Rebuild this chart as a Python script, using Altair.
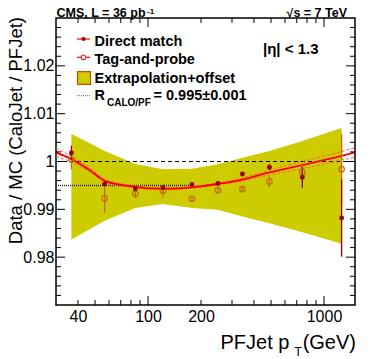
import altair as alt
import pandas as pd

# ---------------- data ----------------
pt = [36.7, 56.7, 84.7, 121.7, 177.7, 249.5, 344, 489.7, 753, 1259]
direct = [1.0018, 0.9953, 0.9943, 0.9945, 0.9952, 0.9954, 0.9974, 0.9988, 0.9967, 0.9882]
direct_err = [0.0015, 0.0005, 0.0003, 0.0004, 0.0003, 0.0003, 0.0003, 0.0006, 0.0022, 0.0081]
tagprobe = [1.0004, 0.9923, 0.9933, 0.9939, 0.9922, 0.9940, 0.9942, 0.9958, 0.9977, 0.9984]
tagprobe_err = [0.0020, 0.0030, 0.0010, 0.0014, 0.0005, 0.0004, 0.0005, 0.0012, 0.0020, 0.0073]

band_hi = [1.0058, 1.0022, 0.9995, 0.9984, 0.9985, 0.9994, 1.0008, 1.0022, 1.0043, 1.0070]
band_lo = [0.9837, 0.9876, 0.9903, 0.9911, 0.9903, 0.9899, 0.9885, 0.9871, 0.9852, 0.9828]

fit_pt = [30, 36.7, 47, 56.5, 69.6, 84.7, 103, 125, 152, 198, 257, 333, 490, 752, 1259, 1500]
fit_c = [1.0019, 1.0005, 0.9981, 0.9960, 0.99515, 0.9947, 0.99438, 0.9943, 0.99438, 0.99479,
         0.9954, 0.99613, 0.99771, 0.99925, 1.00119, 1.0019]
fit_up = [1.0028, 1.0011, 0.9985, 0.9963, 0.9954, 0.9949, 0.9946, 0.9945, 0.9946, 0.9950,
          0.9956, 0.9964, 0.9982, 1.0000, 1.0021, 1.0029]
fit_dn = [1.0010, 0.9999, 0.9977, 0.9957, 0.9949, 0.9945, 0.9942, 0.9941, 0.9942, 0.9946,
          0.9952, 0.9958, 0.9972, 0.9985, 1.0003, 1.0009]

unity_line = [30, 1500]
rconst_line = [30, 180]
rconst_value = 0.995

x_labels = [40, 100, 200, 1000]
y_labels = [0.98, 0.99, 1.00, 1.01, 1.02]
x_major = [100, 1000]
x_minor = [40, 50, 60, 70, 80, 90, 200, 300, 400, 500, 600, 700, 800, 900]
y_major = [0.98, 0.99, 1.00, 1.01, 1.02]
y_minor = [0.972, 0.974, 0.976, 0.978, 0.982, 0.984, 0.986, 0.988, 0.992, 0.994, 0.996, 0.998,
           1.002, 1.004, 1.006, 1.008, 1.012, 1.014, 1.016, 1.018, 1.022, 1.024, 1.026, 1.028]

legend_labels = ["Direct match", "Tag-and-probe", "Extrapolation+offset"]

# ---------------- styling ----------------
W, H = 299, 287
FONT = "Liberation Sans"
BAND = "#cccc00"
RED = "#ff0000"
RED_L = "#ff5a5a"
DM = "#990000"
TP = "#c07010"
LF = 14.5

xs = alt.Scale(type="log", domain=[30, 1500], nice=False)
ys = alt.Scale(domain=[0.97, 1.03], nice=False, zero=False)
xaxis = alt.Axis(values=x_labels, title=None, ticks=False, domain=False, grid=False,
                 labelFont=FONT, labelFontSize=16, labelColor="black", labelPadding=3,
                 format="d", labelFlush=False, labelOverlap=False)
yaxis = alt.Axis(values=y_labels, title=None, ticks=False, domain=False, grid=False,
                 labelFont=FONT, labelFontSize=16, labelColor="black", labelPadding=2,
                 format="~g", labelOverlap=False)


def X(f):
    return alt.X(f, type="quantitative", scale=xs, axis=xaxis)


def Y(f):
    return alt.Y(f, type="quantitative", scale=ys, axis=yaxis)


pts = pd.DataFrame({"pt": pt, "dm": direct, "dm_lo": [a - b for a, b in zip(direct, direct_err)],
                    "dm_hi": [a + b for a, b in zip(direct, direct_err)],
                    "tp": tagprobe, "tp_lo": [a - b for a, b in zip(tagprobe, tagprobe_err)],
                    "tp_hi": [a + b for a, b in zip(tagprobe, tagprobe_err)],
                    "blo": band_lo, "bhi": band_hi})
fit = pd.DataFrame({"pt": fit_pt, "c": fit_c, "up": fit_up, "dn": fit_dn})

band = alt.Chart(pts).mark_area(color=BAND, opacity=1).encode(x=X("pt"), y=Y("blo"), y2="bhi")

unity = alt.Chart(pd.DataFrame({"pt": unity_line, "v": [1.0, 1.0]})).mark_line(
    color="black", strokeWidth=1, strokeDash=[4, 3], clip=True).encode(x=X("pt"), y=Y("v"))
rconst = alt.Chart(pd.DataFrame({"pt": rconst_line, "v": [rconst_value, rconst_value]})).mark_line(
    color="#222222", strokeWidth=1.5, strokeDash=[1, 1], clip=True).encode(x=X("pt"), y=Y("v"))

fit_u = alt.Chart(fit).mark_line(color=RED_L, strokeWidth=1, strokeDash=[3, 2],
                                 interpolate="monotone", clip=True).encode(x=X("pt"), y=Y("up"))
fit_d = alt.Chart(fit).mark_line(color=RED_L, strokeWidth=1, strokeDash=[3, 2],
                                 interpolate="monotone", clip=True).encode(x=X("pt"), y=Y("dn"))
fit_m = alt.Chart(fit).mark_line(color=RED, strokeWidth=1.8,
                                 interpolate="monotone", clip=True).encode(x=X("pt"), y=Y("c"))

tp_bar = alt.Chart(pts).mark_rule(color=TP, strokeWidth=1.3).encode(x=X("pt"), y=Y("tp_lo"), y2="tp_hi")
dm_bar = alt.Chart(pts).mark_rule(color=DM, strokeWidth=1.3).encode(x=X("pt"), y=Y("dm_lo"), y2="dm_hi")
tp_pt = alt.Chart(pts).mark_point(shape="circle", filled=False, color=TP, size=30, strokeWidth=1.3,
                                  opacity=1).encode(x=X("pt"), y=Y("tp"))
dm_pt = alt.Chart(pts).mark_point(shape="circle", filled=True, color=DM, size=24,
                                  opacity=1).encode(x=X("pt"), y=Y("dm"))


# ---------------- ROOT-style inward ticks ----------------
def yticks(vals, length):
    d = pd.DataFrame({"v": vals})
    left = alt.Chart(d).mark_rule(color="black", strokeWidth=1).encode(
        y=Y("v"), x=alt.value(0), x2=alt.value(length))
    right = alt.Chart(d).mark_rule(color="black", strokeWidth=1).encode(
        y=Y("v"), x=alt.value(W - length), x2=alt.value(W))
    return [left, right]


def xticks(vals, length):
    d = pd.DataFrame({"v": vals})
    bottom = alt.Chart(d).mark_rule(color="black", strokeWidth=1).encode(
        x=X("v"), y=alt.value(H - length), y2=alt.value(H))
    top = alt.Chart(d).mark_rule(color="black", strokeWidth=1).encode(
        x=X("v"), y=alt.value(0), y2=alt.value(length))
    return [bottom, top]


ticks = yticks(y_major, 9) + yticks(y_minor, 5) + xticks(x_major, 9) + xticks(x_minor, 5)


# ---------------- texts ----------------
def txt(s, x, y, size, weight="normal", align="left", angle=0, color="black"):
    return alt.Chart(pd.DataFrame({"s": [s]})).mark_text(
        font=FONT, fontSize=size, fontWeight=weight, align=align, baseline="alphabetic",
        angle=angle, color=color).encode(x=alt.value(x), y=alt.value(y), text="s:N")


texts = [
    txt("CMS, L = 36 pb", 0.5, -1, 12.5, "bold"),
    txt("-1", 91, -4.5, 8, "bold"),
    txt("\u221as = 7 TeV", 291, -1, 12.5, "bold", align="right"),
    txt("|\u03b7| < 1.3", 207, 36, 15, "bold"),
    txt(legend_labels[0], 38.5, 27.7, LF, "bold"),
    txt(legend_labels[1], 38.5, 46, LF, "bold"),
    txt(legend_labels[2], 38.5, 65, LF, "bold"),
    txt("R", 38.5, 82, LF, "bold"),
    txt("CALO/PF", 51, 88, 10, "bold"),
    txt("= 0.995\u00b10.001", 97.5, 82, LF, "bold"),
    txt("PFJet p", 164.5, 330.5, 20),
    txt("T", 238.5, 337.5, 12),
    txt("(GeV)", 300, 330.5, 20, align="right"),
    txt("Data / MC (CaloJet / PFJet)", -34.5, -1, 18.5, align="right", angle=270),
]

one = pd.DataFrame({"a": [0]})
leg_line1 = alt.Chart(one).mark_rule(color=RED, strokeWidth=1.2).encode(
    x=alt.value(21), x2=alt.value(34), y=alt.value(21))
leg_dot1 = alt.Chart(one).mark_point(shape="circle", filled=True, color=DM, size=18, opacity=1).encode(
    x=alt.value(27.5), y=alt.value(21))
leg_line2 = alt.Chart(one).mark_rule(color=RED, strokeWidth=1.2).encode(
    x=alt.value(21), x2=alt.value(34), y=alt.value(39.3))
leg_dot2 = alt.Chart(one).mark_point(shape="circle", filled=True, color="white", size=22, opacity=1).encode(
    x=alt.value(27.5), y=alt.value(39.3))
leg_dot2b = alt.Chart(one).mark_point(shape="circle", filled=False, color="#cc3030", size=22,
                                      strokeWidth=1.1, opacity=1).encode(
    x=alt.value(27.5), y=alt.value(39.3))
leg_box = alt.Chart(one).mark_rect(color=BAND, stroke="#c05000", strokeWidth=1.2).encode(
    x=alt.value(21.5), x2=alt.value(34.5), y=alt.value(53.7), y2=alt.value(66.3))
leg_line4 = alt.Chart(one).mark_rule(color="#666666", strokeWidth=1, strokeDash=[1, 1]).encode(
    x=alt.value(21), x2=alt.value(34), y=alt.value(77.7))

chart = alt.layer(
    band, unity, rconst, fit_u, fit_d, fit_m, tp_bar, dm_bar, tp_pt, dm_pt,
    *ticks, leg_line1, leg_dot1, leg_line2, leg_dot2, leg_dot2b, leg_box, leg_line4, *texts
).properties(
    width=W, height=H,
    padding={"left": 48, "top": 10, "right": 10, "bottom": 54},
    autosize=alt.AutoSizeParams(type="none"),
    background="white",
).configure_view(stroke="black", strokeWidth=1.5)

chart.save("out.html", embed_options={"renderer": "svg", "actions": False})
